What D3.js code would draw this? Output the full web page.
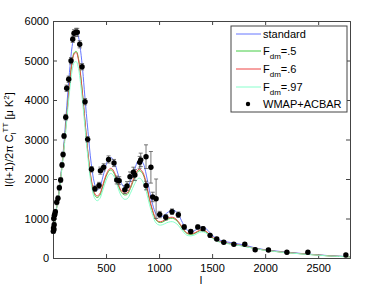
<!DOCTYPE html>
<html><head>
<meta charset="utf-8">
<script src="https://d3js.org/d3.v7.min.js"></script>
<style>
  body { margin: 0; background: #fff; }
  text { font-family: "Liberation Sans", Arial, sans-serif; }
  .axis line, .axis path { stroke: #444; }
</style>
</head>
<body>
<svg id="chart" width="387" height="291"></svg>
<script>
// multipole grid for the model curves
const ells = [2, 10, 20, 40, 60, 80, 100, 120, 140, 160, 180, 200, 220, 240, 260, 280, 300, 330, 360, 390, 415, 440, 470, 500, 530, 550, 580, 610, 640, 670, 700, 730, 770, 800, 820, 850, 880, 910, 940, 970, 1000, 1030, 1070, 1110, 1140, 1180, 1220, 1260, 1300, 1340, 1380, 1420, 1460, 1500, 1550, 1600, 1700, 1800, 1900, 2000, 2200, 2400, 2600, 2800];

const standard = [750, 800, 1000, 1400, 1750, 2250, 2800, 3500, 4200, 4850, 5350, 5650, 5740, 5600, 5250, 4750, 4100, 3200, 2400, 1900, 1720, 1780, 2050, 2350, 2520, 2540, 2420, 2150, 1920, 1800, 1800, 1950, 2250, 2450, 2490, 2400, 2100, 1700, 1350, 1120, 1040, 1050, 1130, 1200, 1210, 1110, 900, 720, 660, 700, 770, 780, 700, 580, 480, 430, 380, 330, 260, 210, 150, 100, 60, 35];
const fdm05 = [750, 800, 1000, 1385, 1725, 2210, 2720, 3320, 3930, 4530, 4980, 5200, 5230, 5050, 4640, 4110, 3500, 2630, 1970, 1610, 1530, 1580, 1810, 2060, 2210, 2230, 2120, 1880, 1680, 1600, 1610, 1760, 2040, 2190, 2210, 2110, 1840, 1460, 1170, 965, 900, 905, 965, 1005, 995, 905, 750, 625, 595, 625, 685, 690, 625, 520, 432, 394, 346, 302, 243, 198, 138, 93, 54, 30];
const fdm06 = [750, 800, 1000, 1380, 1720, 2200, 2700, 3300, 3900, 4500, 4950, 5170, 5200, 5020, 4620, 4100, 3500, 2650, 2000, 1650, 1570, 1620, 1850, 2100, 2250, 2270, 2160, 1920, 1720, 1640, 1650, 1800, 2080, 2230, 2250, 2150, 1880, 1500, 1200, 990, 920, 930, 990, 1030, 1020, 930, 770, 640, 610, 640, 700, 705, 640, 530, 440, 400, 350, 305, 245, 200, 140, 95, 55, 30];
const fdm097 = [750, 800, 990, 1370, 1700, 2170, 2650, 3200, 3780, 4320, 4740, 4950, 4970, 4800, 4420, 3920, 3350, 2520, 1880, 1530, 1450, 1500, 1720, 1960, 2120, 2140, 2040, 1800, 1590, 1490, 1500, 1640, 1880, 2010, 2020, 1920, 1680, 1350, 1080, 890, 835, 840, 890, 920, 910, 830, 690, 580, 560, 590, 650, 660, 600, 500, 420, 385, 340, 295, 240, 195, 135, 90, 52, 28];

// WMAP + ACBAR band powers
const dataL = [3, 5, 7, 9, 11, 13, 17, 22, 35, 47, 60, 72, 85, 95, 104, 120, 129, 148, 170, 186, 198, 217, 229, 252, 274, 302, 327, 363, 395, 434, 447, 478, 524, 575, 601, 624, 677, 698, 726, 758, 772, 817, 827, 877, 877, 923, 940, 972, 1006, 1063, 1122, 1182, 1237, 1299, 1365, 1415, 1481, 1544, 1610, 1705, 1808, 1906, 2031, 2205, 2403, 2761];
const dataV = [680, 760, 1000, 720, 840, 1080, 1110, 1170, 1410, 1511, 1780, 1975, 2354, 2620, 3089, 3565, 4296, 4524, 4995, 5537, 5689, 5714, 5714, 5410, 4843, 3957, 3004, 2245, 1755, 1835, 2211, 2296, 2495, 2405, 1975, 1957, 1730, 1823, 2059, 2169, 2101, 2422, 2485, 2565, 1835, 2296, 1545, 1500, 1100, 1030, 1172, 1095, 785, 670, 785, 743, 573, 481, 400, 350, 350, 210, 203, 144, 144, 76];
const dataErr = [60, 60, 60, 60, 60, 60, 60, 60, 60, 60, 60, 60, 60, 60, 60, 70, 80, 80, 80, 80, 90, 100, 100, 90, 80, 80, 70, 70, 70, 80, 90, 90, 90, 90, 100, 100, 100, 110, 120, 130, 140, 150, 170, 300, 110, 400, 120, 500, 80, 70, 70, 70, 60, 50, 50, 50, 50, 40, 40, 40, 40, 40, 40, 40, 40, 40];

const seriesNames = ["standard", "Fdm=.5", "Fdm=.6", "Fdm=.97"];
const seriesColors = ["#6677ff", "#44cc44", "#ee4444", "#88ffcc"];
const seriesValues = [standard, fdm05, fdm06, fdm097];

const xTicks = [0, 500, 1000, 1500, 2000, 2500];
const yTicks = [0, 1000, 2000, 3000, 4000, 5000, 6000];

const svg = d3.select("#chart");
const margin = {top: 21, right: 37, bottom: 33, left: 53};
const width = 387, height = 291;
const chartWidth = width - margin.left - margin.right;
const chartHeight = height - margin.top - margin.bottom;

const xScale = d3.scaleLinear().domain([0, 2800]).range([margin.left, margin.left + chartWidth]);
const yScale = d3.scaleLinear().domain([0, 6000]).range([margin.top + chartHeight, margin.top]);

// axes, ticks pointing inward like matlab
const ax = svg.append("g").attr("class", "axis");
ax.append("g")
  .attr("transform", "translate(0," + (margin.top + chartHeight) + ")")
  .call(d3.axisBottom(xScale).tickValues(xTicks).tickSize(-4).tickPadding(6)
        .tickFormat(d => d === 0 ? "" : d3.format("d")(d)));
ax.append("g")
  .attr("transform", "translate(0," + margin.top + ")")
  .call(d3.axisTop(xScale).tickValues(xTicks).tickSize(-4).tickFormat(""));
ax.append("g")
  .attr("transform", "translate(" + margin.left + ",0)")
  .call(d3.axisLeft(yScale).tickValues(yTicks).tickSize(-4).tickPadding(4)
        .tickFormat(d3.format("d")));
ax.append("g")
  .attr("transform", "translate(" + (margin.left + chartWidth) + ",0)")
  .call(d3.axisRight(yScale).tickValues(yTicks).tickSize(-4).tickFormat(""));
ax.selectAll("text").attr("font-size", 11).attr("fill", "#000")
  .style("font-family", "'Liberation Sans', Arial, sans-serif");
ax.selectAll(".domain").attr("stroke", "#444");

// model curves
const line = d3.line()
  .x(d => xScale(d[0]))
  .y(d => yScale(d[1]))
  .curve(d3.curveCatmullRom);

const curves = svg.append("g");
seriesValues.forEach((vals, i) => {
  curves.append("path")
    .datum(ells.map((l, j) => [l, vals[j]]))
    .attr("fill", "none")
    .attr("stroke", seriesColors[i])
    .attr("stroke-width", 1)
    .attr("d", line);
});

// error bars and points
const pts = svg.append("g");
dataL.forEach((l, i) => {
  let x = xScale(l);
  let y0 = yScale(dataV[i] - dataErr[i]);
  let y1 = yScale(dataV[i] + dataErr[i]);
  pts.append("line").attr("x1", x).attr("x2", x).attr("y1", y0).attr("y2", y1)
    .attr("stroke", "#555").attr("stroke-width", 0.8);
  [y0, y1].forEach(yy => {
    pts.append("line").attr("x1", x - 2).attr("x2", x + 2).attr("y1", yy).attr("y2", yy)
      .attr("stroke", "#555").attr("stroke-width", 0.8);
  });
});
dataL.forEach((l, i) => {
  pts.append("circle")
    .attr("cx", xScale(l))
    .attr("cy", yScale(dataV[i]))
    .attr("r", 2.7)
    .attr("fill", "#000");
});

// axis labels
svg.append("text")
  .attr("x", 201).attr("y", 284)
  .attr("text-anchor", "middle")
  .attr("font-size", 11)
  .attr("fill", "#000")
  .text("l");

const yl = svg.append("text")
  .attr("transform", "translate(13," + (margin.top + chartHeight / 2) + ") rotate(-90)")
  .attr("text-anchor", "middle")
  .attr("font-size", 11);
yl.append("tspan").text("l(l+1)/2\u03c0 C");
yl.append("tspan").attr("font-size", 8).attr("dy", 3).text("l");
yl.append("tspan").attr("font-size", 8).attr("dy", -8).text("TT");
yl.append("tspan").attr("dy", 5).text(" [\u03bc K");
yl.append("tspan").attr("font-size", 8).attr("dy", -4).text("2");
yl.append("tspan").attr("dy", 4).text("]");

// legend
const lg = svg.append("g");
lg.append("rect")
  .attr("x", 231).attr("y", 26).attr("width", 116).attr("height", 86)
  .attr("fill", "#fff").attr("stroke", "#444").attr("stroke-width", 1);
const legendY = [34, 51, 69, 87];
seriesNames.forEach((name, i) => {
  lg.append("line")
    .attr("x1", 236).attr("x2", 261)
    .attr("y1", legendY[i]).attr("y2", legendY[i])
    .attr("stroke", seriesColors[i]).attr("stroke-width", 1);
  let t = lg.append("text").attr("x", 263).attr("y", legendY[i] + 4).attr("font-size", 11);
  if (name.startsWith("Fdm")) {
    t.append("tspan").text("F");
    t.append("tspan").attr("font-size", 8).attr("dy", 4).text("dm");
    t.append("tspan").attr("dy", -4).text(name.slice(3));
  } else {
    t.text(name);
  }
});
lg.append("circle").attr("cx", 248).attr("cy", 104).attr("r", 2.2).attr("fill", "#000");
lg.append("text").attr("x", 263).attr("y", 108).attr("font-size", 11).text("WMAP+ACBAR");
</script>
</body>
</html>
